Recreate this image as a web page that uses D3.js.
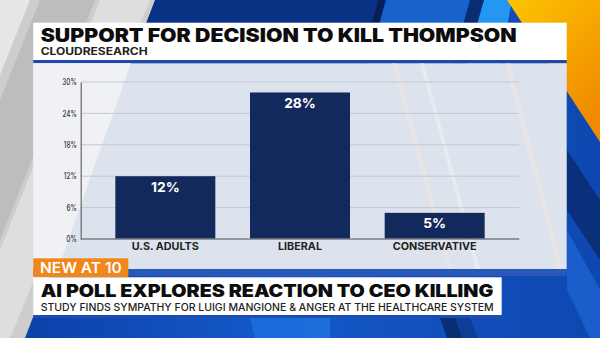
<!DOCTYPE html>
<html><head><meta charset="utf-8">
<script src="https://cdn.jsdelivr.net/npm/d3@7"></script>
<style>html,body{margin:0;padding:0;overflow:hidden;background:#fff}svg{display:block}</style>
</head><body>
<script>
const title = "SUPPORT FOR DECISION TO KILL THOMPSON";
const source = "CLOUDRESEARCH";
const tag = "NEW AT 10";
const headline = "AI POLL EXPLORES REACTION TO CEO KILLING";
const subhead = "STUDY FINDS SYMPATHY FOR LUIGI MANGIONE & ANGER AT THE HEALTHCARE SYSTEM";
const categories = ["U.S. ADULTS", "LIBERAL", "CONSERVATIVE"];
const values = [12, 28, 5];
const yTicks = [0, 6, 12, 18, 24, 30];

const W = 600, H = 338;
const svg = d3.select("body").append("svg").attr("width", W).attr("height", H);
const defs = svg.append("defs");
const FONT = "Inter, 'Open Sans', 'DejaVu Sans', sans-serif";

function fit(sel, w) { sel.attr("textLength", w).attr("lengthAdjust", "spacingAndGlyphs"); return sel; }

// ---------- background ----------
const og = defs.append("linearGradient").attr("id", "og").attr("x1", 0).attr("y1", 0).attr("x2", 0.6).attr("y2", 1);
og.append("stop").attr("offset", 0).attr("stop-color", "#fdc400");
og.append("stop").attr("offset", 1).attr("stop-color", "#f08a00");
const bg = defs.append("linearGradient").attr("id", "bb").attr("x1", 0).attr("y1", 0).attr("x2", 1).attr("y2", 0);
bg.append("stop").attr("offset", 0).attr("stop-color", "#0b3fa6");
bg.append("stop").attr("offset", 0.45).attr("stop-color", "#1459c9");
bg.append("stop").attr("offset", 1).attr("stop-color", "#0e47b0");

const poly = (pts, fill, op) => svg.append("polygon").attr("points", pts.map(p => p.join(",")).join(" ")).attr("fill", fill).attr("opacity", op == null ? 1 : op);

svg.append("rect").attr("width", W).attr("height", H).attr("fill", "url(#bb)");
// top navy / blue band
poly([[150,0],[378,0],[360,64],[130,64]], "#0a3184");
poly([[378,0],[386,0],[368,64],[360,64]], "#06205a");
poly([[386,0],[470,0],[452,64],[368,64]], "#1762cc");
poly([[470,0],[484,0],[466,64],[452,64]], "#0a2c70");
poly([[484,0],[512,0],[500,64],[466,64]], "#2596f2");
// orange corner
poly([[507,0],[600,0],[600,142]], "url(#og)");
// right side streaks
poly([[567,150],[600,200],[600,260],[567,210]], "#0a2a6e", 0.8);
poly([[567,230],[600,290],[600,338],[590,338],[567,290]], "#1f66d6", 0.7);
// bottom streaks
poly([[250,318],[300,318],[305,338],[255,338]], "#1f7ae6", 0.6);
poly([[300,318],[330,318],[330,338],[305,338]], "#2a86ee", 0.5);
poly([[440,318],[455,318],[462,338],[447,338]], "#082660", 0.8);
poly([[455,318],[470,318],[478,338],[462,338]], "#0a2c70", 0.5);
// left gray area
poly([[0,0],[155,0],[25,338],[0,338]], "#cdcdcd");
poly([[40,0],[95,0],[0,240],[0,100]], "#bdbdbd");
poly([[100,0],[150,0],[10,338],[0,338],[0,250]], "#dedede");
poly([[0,0],[30,0],[0,75]], "#e6e6e6");

// ---------- title box ----------
svg.append("rect").attr("x", 33.3).attr("y", 22.7).attr("width", 533.4).attr("height", 37.3).attr("fill", "#ffffff");
svg.append("rect").attr("x", 33.3).attr("y", 60).attr("width", 533.4).attr("height", 3.3).attr("fill", "#1e49aa");
fit(svg.append("text").attr("x", 40.7).attr("y", 41.7).attr("font-family", FONT).attr("font-weight", 900)
  .attr("font-size", 18.5).attr("fill", "#0d0d0d").text(title), 476);
fit(svg.append("text").attr("x", 40.7).attr("y", 55).attr("font-family", FONT).attr("font-weight", 700)
  .attr("font-size", 10.2).attr("fill", "#222").text(source), 107);

// ---------- chart panel ----------
svg.append("rect").attr("x", 33.3).attr("y", 63.3).attr("width", 533.4).attr("height", 205.7).attr("fill", "#dde3ed");
poly([[33.3,63.3],[131,63.3],[58,269],[33.3,269]], "#f0f1f4");
poly([[392,63.3],[397,63.3],[452,269],[447,269]], "#efe6e0", 0.6);
poly([[420,63.3],[424,63.3],[480,269],[476,269]], "#eef0f5", 0.6);
poly([[505,63.3],[510,63.3],[563,269],[558,269]], "#efe6e0", 0.6);
svg.append("rect").attr("x", 33.3).attr("y", 269).attr("width", 533.4).attr("height", 7).attr("fill", "#2a57ba");

const x = d3.scaleBand().domain(categories).range([81, 519]).paddingInner(0.2576).paddingOuter(0.255);
const y = d3.scaleLinear().domain([0, 30]).range([239, 82]);

// gridlines
svg.append("g").selectAll("line").data(yTicks.filter(d => d > 0)).join("line")
  .attr("x1", 81).attr("x2", 519).attr("y1", d => y(d)).attr("y2", d => y(d))
  .attr("stroke", "#c3c8d2").attr("stroke-width", 1);

// y axis
const yAxis = svg.append("g").attr("transform", "translate(80.7,0)")
  .call(d3.axisLeft(y).tickValues(yTicks).tickFormat(d => d + "%").tickSize(0).tickPadding(4));
yAxis.select(".domain").attr("stroke", "#666").attr("stroke-width", 1.2);
const yt = yAxis.selectAll("text").attr("font-family", FONT).attr("font-size", 8.5).attr("font-weight", 500).attr("fill", "#333");
let w30 = 0;
yt.each(function(d) { if (d === 30) w30 = this.getComputedTextLength(); });
yt.each(function() { const w = this.getComputedTextLength(); d3.select(this).attr("textLength", w * 14.4 / w30).attr("lengthAdjust", "spacingAndGlyphs"); });

// bars
svg.append("g").selectAll("rect").data(values).join("rect")
  .attr("x", (d, i) => x(categories[i])).attr("width", x.bandwidth())
  .attr("y", d => y(d)).attr("height", d => y(0) - y(d)).attr("fill", "#13295c");

// value labels
svg.append("g").selectAll("text").data(values).join("text")
  .attr("x", (d, i) => x(categories[i]) + x.bandwidth() / 2).attr("y", d => y(d) + 15.3)
  .attr("text-anchor", "middle").attr("font-family", FONT).attr("font-weight", 700).attr("font-size", 13.8)
  .attr("fill", "#fff").text(d => d + "%");

// x axis
const xAxis = svg.append("g").attr("transform", "translate(0,239)")
  .call(d3.axisBottom(x).tickSize(0).tickPadding(0));
xAxis.select(".domain").remove();
svg.append("line").attr("x1", 80.7).attr("x2", 519.3).attr("y1", 239).attr("y2", 239).attr("stroke", "#7a7d84").attr("stroke-width", 1.6);
const xt = xAxis.selectAll("text").attr("font-family", FONT).attr("font-weight", 700).attr("font-size", 10.3).attr("fill", "#222").attr("dy", 0).attr("y", 11);
let wUS = 0;
xt.each(function(d) { if (d === categories[0]) wUS = this.getComputedTextLength(); });
xt.each(function() { const w = this.getComputedTextLength(); d3.select(this).attr("textLength", w * 67 / wUS).attr("lengthAdjust", "spacingAndGlyphs"); });

// ---------- lower third ----------
svg.append("rect").attr("x", 33.3).attr("y", 258.3).attr("width", 95).attr("height", 19).attr("fill", "#f0871b");
fit(svg.append("text").attr("x", 40).attr("y", 272.7).attr("font-family", FONT).attr("font-weight", 600)
  .attr("font-size", 13.8).attr("fill", "#fff").text(tag), 81.7);
svg.append("rect").attr("x", 33.3).attr("y", 277.3).attr("width", 468.4).attr("height", 37.7).attr("fill", "#ffffff");
svg.append("rect").attr("x", 33.3).attr("y", 315).attr("width", 468.4).attr("height", 3).attr("fill", "#1d4cb2");
fit(svg.append("text").attr("x", 40.7).attr("y", 296.5).attr("font-family", FONT).attr("font-weight", 900)
  .attr("font-size", 17.5).attr("fill", "#0d0d0d").text(headline), 452.6);
fit(svg.append("text").attr("x", 40.7).attr("y", 310.7).attr("font-family", FONT).attr("font-weight", 500)
  .attr("font-size", 10.2).attr("fill", "#222").text(subhead), 453);
</script>
</body></html>
